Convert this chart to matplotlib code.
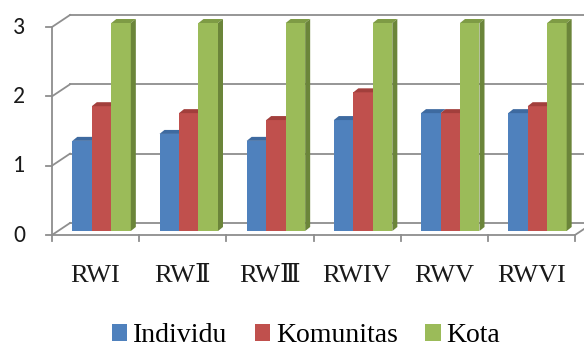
import numpy as np
import matplotlib.pyplot as plt
from matplotlib.patches import Polygon
from matplotlib.font_manager import FontProperties

categories = ['RWI', 'RWⅡ', 'RWⅢ', 'RWIV', 'RWV', 'RWVI']
individu = [1.3, 1.4, 1.3, 1.6, 1.7, 1.7]
komunitas = [1.8, 1.7, 1.6, 2.0, 1.7, 1.8]
kota = [3, 3, 3, 3, 3, 3]
series_names = ['Individu', 'Komunitas', 'Kota']
series = [individu, komunitas, kota]

face_colors = ['#4F81BD', '#C0504D', '#9BBB59']
top_colors = ['#3E6AA0', '#A23F3C', '#7E9B45']
side_colors = ['#375C89', '#8C3734', '#6B853A']
grid_color = '#8E8E8E'

W, H = 584, 356
fig = plt.figure(figsize=(W / 100, H / 100), dpi=100)
# front plane of the plot area, pixels
x0, x1, yb, yt = 52, 575, 235, 27
ax = fig.add_axes([x0 / W, 1 - yb / H, (x1 - x0) / W, (yb - yt) / H])
ncat = len(categories)
ax.set_xlim(0, ncat)
ax.set_ylim(0, 3)
ax.axis('off')

# pixels -> data units
kx = ncat / (x1 - x0)
ky = 3 / (yb - yt)
back_dx, back_dy = 18 * kx, 12 * ky   # back wall offset
bar_dx, bar_dy = 6 * kx, 4 * ky       # bars sit between the planes
dep_dx, dep_dy = 5 * kx, 4 * ky       # bar depth

lw = 1.3
# back wall gridlines and the diagonals to the front axis
for v in range(4):
    ax.plot([back_dx, ncat + back_dx + 1], [v + back_dy, v + back_dy],
            color=grid_color, lw=lw, clip_on=False, zorder=1)
    ax.plot([0, back_dx], [v, v + back_dy], color=grid_color, lw=lw,
            clip_on=False, zorder=1)
    ax.plot([-6 * kx, 0], [v, v], color=grid_color, lw=lw, clip_on=False, zorder=5)
    ax.text(-27 * kx, v, str(v), ha='right', va='center', fontsize=17,
            family=['Carlito', 'Liberation Sans'], color='#1A1A1A')

# floor edges
ax.plot([ncat, ncat + back_dx], [0, back_dy], color=grid_color, lw=lw,
        clip_on=False, zorder=1)
ax.plot([0, ncat], [0, 0], color=grid_color, lw=lw, clip_on=False, zorder=5)
ax.plot([0, 0], [0, 3], color=grid_color, lw=lw, clip_on=False, zorder=5)
for c in range(ncat + 1):
    ax.plot([c, c], [0, -6 * ky], color=grid_color, lw=lw, clip_on=False, zorder=5)

# bars with top and side faces
w = 19.5 * kx
for ci in range(ncat):
    for si, vals in enumerate(series):
        h = vals[ci]
        left = ci + 0.5 + (si - 1.5) * w + bar_dx
        right = left + w
        base = bar_dy
        top = base + h
        ax.add_patch(Polygon([[left, base], [right, base], [right, top], [left, top]],
                             closed=True, facecolor=face_colors[si], edgecolor='none',
                             zorder=3, clip_on=False))
        ax.add_patch(Polygon([[left, top], [right, top], [right + dep_dx, top + dep_dy],
                              [left + dep_dx, top + dep_dy]], closed=True,
                             facecolor=top_colors[si], edgecolor='none', zorder=3,
                             clip_on=False))
        if si == len(series) - 1:
            ax.add_patch(Polygon([[right, base], [right + dep_dx, base + dep_dy],
                                  [right + dep_dx, top + dep_dy], [right, top]],
                                 closed=True, facecolor=side_colors[si], edgecolor='none',
                                 zorder=3, clip_on=False))

# category labels
for ci, name in enumerate(categories):
    ax.text(ci + 0.5, -41 * ky, name, ha='center', va='center', fontsize=19,
            family=['Liberation Serif', 'DejaVu Serif'], color='#1A1A1A')

# legend
legend_font = FontProperties(family=['Liberation Serif', 'DejaVu Serif'], size=20)
handles = [plt.Rectangle((0, 0), 1, 1, facecolor=c, edgecolor='none') for c in face_colors]
fig.legend(handles, series_names, loc='center', bbox_to_anchor=(306 / W, 1 - 336 / H),
           ncol=3, frameon=False, handlelength=0.55, handleheight=0.55,
           handletextpad=0.2, columnspacing=1.0, prop=legend_font)

fig.savefig('out.png', dpi=100)
